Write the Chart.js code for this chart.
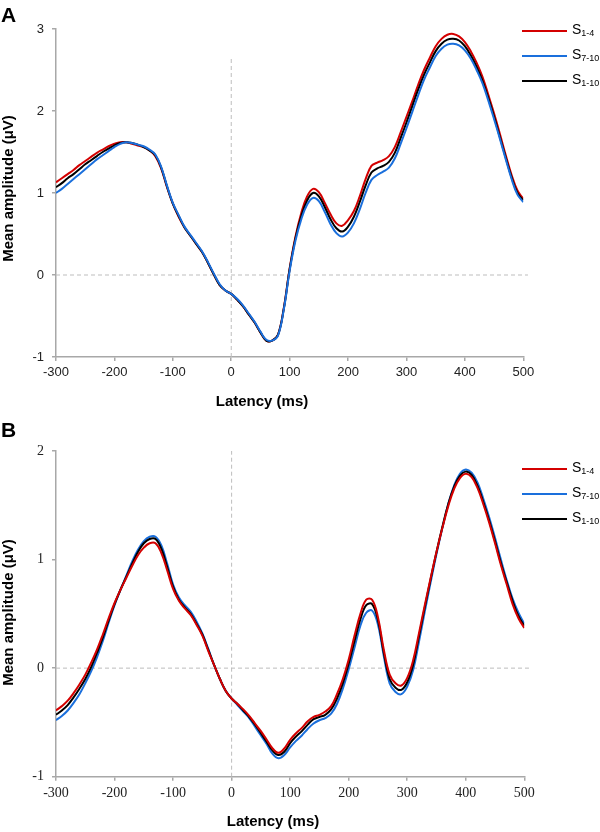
<!DOCTYPE html>
<html>
<head>
<meta charset="utf-8">
<script src="https://cdn.jsdelivr.net/npm/chart.js@4"></script>
<style>
  html, body { margin: 0; padding: 0; background: #fff; }
  body { width: 600px; height: 832px; position: relative; overflow: hidden; font-family: "Liberation Sans", Arial, sans-serif; }
  .cv { position: absolute; left: 0; width: 600px; height: 416px; }
  .panel { position: absolute; font-weight: bold; font-size: 21px; line-height: 21px; color: #000; }
  .xt { position: absolute; width: 200px; text-align: center; font-weight: bold; font-size: 15px; line-height: 15px; color: #000; }
  .yt { position: absolute; width: 200px; text-align: center; font-weight: bold; font-size: 15px; line-height: 15px; color: #000; transform: rotate(-90deg); transform-origin: 50% 50%; white-space: nowrap; }
  .sw { position: absolute; width: 45px; height: 2px; }
  .lt { position: absolute; font-size: 14px; line-height: 14px; color: #000; white-space: nowrap; }
  .lt span { font-size: 9px; position: relative; top: 2px; }
</style>
</head>
<body>
<div class="cv" style="top:0"><canvas id="cA" width="600" height="416"></canvas></div>
<div class="cv" style="top:416px"><canvas id="cB" width="600" height="416"></canvas></div>

<div class="panel" style="left:1px; top:4px;">A</div>
<div class="panel" style="left:1px; top:419px;">B</div>

<div class="xt" style="left:162px; top:393px;">Latency (ms)</div>
<div class="xt" style="left:173px; top:813px;">Latency (ms)</div>
<div class="yt" style="left:-93px; top:181px;">Mean amplitude (μV)</div>
<div class="yt" style="left:-93px; top:605px;">Mean amplitude (μV)</div>

<div id="legA"></div>
<div id="legB"></div>

<script>
// ---------- data ----------
const latency = [-300,-290,-280,-270,-260,-250,-240,-230,-220,-210,-200,-190,-180,-170,-160,-150,-140,-130,-120,-110,-100,-90,-80,-70,-60,-50,-40,-30,-20,-10,0,10,20,30,40,50,60,70,80,90,100,110,120,130,140,150,160,170,180,190,200,210,220,230,240,250,260,270,280,290,300,310,320,330,340,350,360,370,380,390,400,410,420,430,440,450,460,470,480,490,500];

const seriesNames = ["S1-4", "S7-10", "S1-10"];
const seriesColors = ["#d40000", "#1a6fdc", "#000000"];

// Panel A
const A_S1_4 = [1.13,1.18,1.23,1.28,1.34,1.39,1.44,1.49,1.53,1.57,1.60,1.62,1.62,1.60,1.58,1.56,1.52,1.45,1.30,1.07,0.87,0.71,0.58,0.48,0.38,0.28,0.15,0.01,-0.12,-0.19,-0.23,-0.30,-0.38,-0.48,-0.58,-0.70,-0.80,-0.80,-0.73,-0.40,0.08,0.47,0.76,0.96,1.05,1.01,0.88,0.74,0.63,0.60,0.67,0.78,0.96,1.17,1.33,1.37,1.40,1.45,1.56,1.74,1.93,2.12,2.32,2.50,2.65,2.79,2.88,2.93,2.94,2.91,2.84,2.73,2.59,2.42,2.20,1.97,1.72,1.46,1.22,1.03,0.93];
const A_S7_10 = [1.00,1.05,1.11,1.17,1.23,1.29,1.35,1.41,1.46,1.51,1.56,1.60,1.62,1.61,1.59,1.57,1.53,1.47,1.32,1.09,0.88,0.73,0.59,0.49,0.39,0.29,0.16,0.02,-0.11,-0.19,-0.23,-0.29,-0.37,-0.47,-0.57,-0.69,-0.79,-0.80,-0.74,-0.42,0.05,0.42,0.68,0.86,0.94,0.90,0.77,0.62,0.51,0.47,0.52,0.63,0.80,1.00,1.16,1.22,1.26,1.31,1.42,1.60,1.79,1.99,2.19,2.38,2.53,2.67,2.76,2.81,2.82,2.80,2.74,2.64,2.50,2.34,2.13,1.90,1.66,1.41,1.17,0.98,0.89];
const A_S1_10 = [1.07,1.12,1.18,1.23,1.29,1.35,1.40,1.45,1.50,1.54,1.58,1.61,1.62,1.61,1.59,1.56,1.52,1.46,1.31,1.08,0.87,0.72,0.58,0.48,0.38,0.28,0.15,0.01,-0.12,-0.19,-0.23,-0.30,-0.38,-0.48,-0.58,-0.70,-0.80,-0.80,-0.73,-0.41,0.07,0.45,0.72,0.91,1.00,0.96,0.83,0.68,0.57,0.53,0.59,0.71,0.89,1.09,1.25,1.30,1.33,1.38,1.49,1.67,1.86,2.06,2.26,2.44,2.59,2.73,2.82,2.87,2.88,2.86,2.79,2.68,2.54,2.37,2.16,1.93,1.68,1.43,1.19,1.00,0.91];

// Panel B
const B_S1_4 = [-0.39,-0.35,-0.30,-0.23,-0.15,-0.06,0.05,0.17,0.31,0.46,0.60,0.72,0.83,0.94,1.04,1.11,1.15,1.15,1.06,0.90,0.73,0.62,0.55,0.49,0.40,0.30,0.16,0.03,-0.10,-0.21,-0.28,-0.33,-0.38,-0.44,-0.51,-0.58,-0.66,-0.74,-0.78,-0.74,-0.66,-0.60,-0.55,-0.49,-0.45,-0.43,-0.40,-0.35,-0.24,-0.10,0.08,0.30,0.50,0.63,0.63,0.47,0.17,-0.06,-0.14,-0.16,-0.09,0.07,0.32,0.58,0.83,1.07,1.29,1.49,1.65,1.75,1.79,1.76,1.66,1.51,1.34,1.15,0.95,0.77,0.59,0.46,0.37];
const B_S7_10 = [-0.48,-0.44,-0.39,-0.32,-0.24,-0.14,-0.03,0.10,0.25,0.42,0.58,0.72,0.85,0.98,1.09,1.17,1.21,1.21,1.13,0.96,0.77,0.65,0.58,0.52,0.43,0.32,0.18,0.03,-0.10,-0.21,-0.28,-0.34,-0.40,-0.46,-0.54,-0.62,-0.70,-0.79,-0.83,-0.80,-0.73,-0.67,-0.62,-0.56,-0.51,-0.48,-0.46,-0.42,-0.33,-0.19,-0.01,0.19,0.39,0.51,0.53,0.40,0.11,-0.14,-0.22,-0.24,-0.17,-0.02,0.24,0.52,0.79,1.05,1.29,1.51,1.68,1.79,1.83,1.80,1.71,1.56,1.39,1.20,1.00,0.81,0.64,0.51,0.41];
const B_S1_10 = [-0.43,-0.39,-0.34,-0.27,-0.19,-0.10,0.01,0.14,0.28,0.44,0.59,0.72,0.84,0.96,1.07,1.15,1.19,1.19,1.10,0.93,0.75,0.63,0.56,0.50,0.41,0.31,0.17,0.03,-0.10,-0.21,-0.28,-0.33,-0.39,-0.45,-0.52,-0.60,-0.68,-0.76,-0.80,-0.77,-0.69,-0.63,-0.58,-0.52,-0.47,-0.45,-0.43,-0.38,-0.28,-0.14,0.04,0.25,0.45,0.58,0.59,0.44,0.14,-0.10,-0.18,-0.20,-0.13,0.03,0.29,0.56,0.82,1.07,1.30,1.51,1.67,1.77,1.81,1.78,1.68,1.53,1.36,1.17,0.97,0.79,0.62,0.48,0.39];

const xTicks = [-300,-200,-100,0,100,200,300,400,500];
const yTicksA = [-1,0,1,2,3];
const yTicksB = [-1,0,1,2];
const vLineTopA = 2.64;   // dashed vertical marker top in panel A
const hLineEnd = 508;     // dashed zero line extends slightly past 500

// ---------- helpers ----------
function pts(arr) { return latency.map((x, i) => ({ x: x, y: arr[i] })); }

function curve(label, color, arr, order) {
  return { label, data: pts(arr), borderColor: color, borderWidth: 2, pointRadius: 0,
           tension: 0.4, fill: false, order: order };
}
function dashed(data) {
  return { label: "_ref", data, borderColor: "#bdbdbd", borderWidth: 1, borderDash: [4, 3],
           pointRadius: 0, tension: 0, fill: false, order: 10, clip: false };
}

function makeChart(id, datasets, yMin, yMax, yTicks, tickFont, pad) {
  return new Chart(document.getElementById(id), {
    type: "line",
    data: { datasets },
    options: {
      responsive: false, animation: false, devicePixelRatio: 1,
      layout: { padding: pad },
      plugins: { legend: { display: false }, tooltip: { enabled: false } },
      scales: {
        x: {
          type: "linear", min: -300, max: 500,
          afterBuildTicks: (s) => { s.ticks = xTicks.map(v => ({ value: v })); },
          afterFit: (s) => { s.height = 30; },
          ticks: { font: tickFont, color: "#222", padding: 4, maxRotation: 0 },
          grid: { display: true, drawOnChartArea: false, drawTicks: true, tickLength: 4, color: "#a8a8a8", lineWidth: 1.5 },
          border: { display: true, color: "#a8a8a8", width: 1.5 }
        },
        y: {
          type: "linear", min: yMin, max: yMax,
          afterBuildTicks: (s) => { s.ticks = yTicks.map(v => ({ value: v })); },
          afterFit: (s) => { s.width = 56; },
          ticks: { font: tickFont, color: "#222", padding: 8 },
          grid: { display: true, drawOnChartArea: false, drawTicks: true, tickLength: 4, color: "#a8a8a8", lineWidth: 1.5 },
          border: { display: true, color: "#a8a8a8", width: 1.5 }
        }
      }
    }
  });
}

// Panel A: blue on top
makeChart("cA", [
  curve(seriesNames[1], seriesColors[1], A_S7_10, 0),
  curve(seriesNames[2], seriesColors[2], A_S1_10, 1),
  curve(seriesNames[0], seriesColors[0], A_S1_4, 2),
  dashed([{ x: 0, y: -1 }, { x: 0, y: vLineTopA }]),
  dashed([{ x: -300, y: 0 }, { x: hLineEnd, y: 0 }])
], -1, 3, yTicksA, { family: "Liberation Sans", size: 13 },
  { left: 0, top: 29, right: 76.7, bottom: 29 });

// Panel B: red on top
makeChart("cB", [
  curve(seriesNames[0], seriesColors[0], B_S1_4, 0),
  curve(seriesNames[2], seriesColors[2], B_S1_10, 1),
  curve(seriesNames[1], seriesColors[1], B_S7_10, 2),
  dashed([{ x: 0, y: -1 }, { x: 0, y: 2 }]),
  dashed([{ x: -300, y: 0 }, { x: hLineEnd, y: 0 }])
], -1, 2, yTicksB, { family: "Liberation Serif", size: 14 },
  { left: 0, top: 35, right: 75.7, bottom: 25.3 });

// ---------- legends (HTML, with subscripts) ----------
const legendOrder = [0, 1, 2];
function buildLegend(id, ys) {
  const host = document.getElementById(id);
  legendOrder.forEach((si, k) => {
    const y = ys[k];
    const sw = document.createElement("div");
    sw.className = "sw";
    sw.style.left = "522px"; sw.style.top = (y - 1) + "px"; sw.style.background = seriesColors[si];
    host.appendChild(sw);
    const t = document.createElement("div");
    t.className = "lt";
    t.style.left = "572px"; t.style.top = (y - 8.6) + "px";
    const name = seriesNames[si];
    t.innerHTML = name.charAt(0) + "<span>" + name.slice(1) + "</span>";
    host.appendChild(t);
  });
}
buildLegend("legA", [31, 56, 81]);
buildLegend("legB", [469, 494, 519]);
</script>
</body>
</html>
